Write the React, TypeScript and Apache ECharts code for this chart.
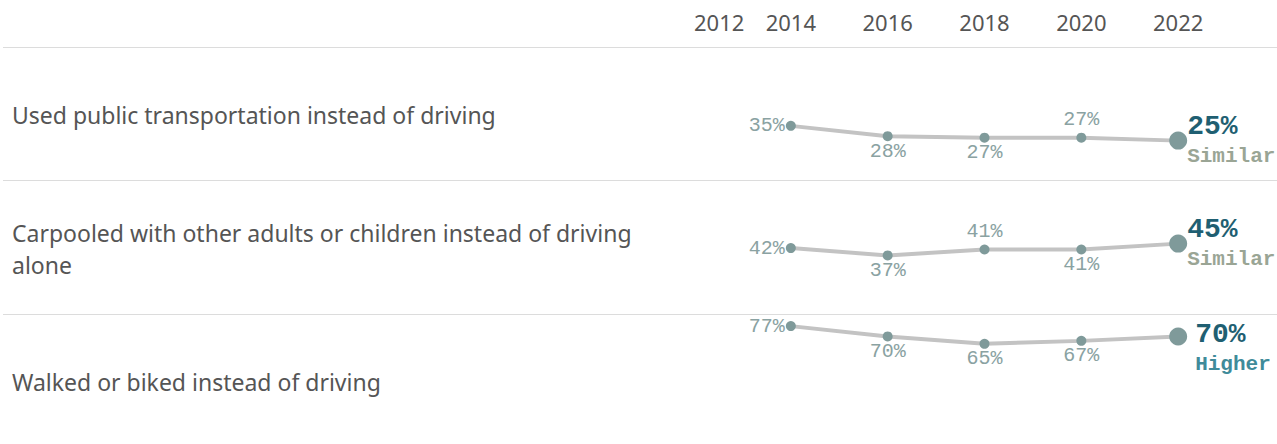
import React, { useEffect, useRef } from "react";
import * as echarts from "echarts";

// ---- data ----
const years = [2014, 2016, 2018, 2020, 2022];
const tickYears = [2012, 2014, 2016, 2018, 2020, 2022];
const categories = [
  "Used public transportation instead of driving",
  "Carpooled with other adults or children instead of driving\nalone",
  "Walked or biked instead of driving",
];
const publicTransport = [35, 28, 27, 27, 25];
const carpooled = [42, 37, 41, 41, 45];
const walkedBiked = [77, 70, 65, 67, 70];
const comparison = ["Similar", "Similar", "Higher"];

const seriesValues = [publicTransport, carpooled, walkedBiked];

// ---- layout / style ----
const W = 1277;
const H = 444;
const rowLines = [47, 180, 314];
const rowCenters = [115, 249, 382];
const baselines = [177.5, 310, 439.7]; // y pixel of 0%
const pxPerPct = 1.475;
const gridHeight = 100 * pxPerPct;
const labelPlacement = [
  ["left", "bottom", "bottom", "top"],
  ["left", "bottom", "top", "bottom"],
  ["left", "bottom", "bottom", "bottom"],
];
const lastLabelOffset = [
  [0, 1],
  [0, 1],
  [8, 13],
];
const statusColors: Record<string, string> = {
  Similar: "#9aa595",
  Higher: "#3f8b9a",
};
const mono = "'Liberation Mono', 'Courier New', monospace";
const sans = "'Noto Sans', sans-serif";

export default function App() {
  const ref = useRef<HTMLDivElement>(null);
  useEffect(() => {
    if (!ref.current) return;
    const chart = echarts.init(ref.current, undefined, { renderer: "svg" });

    const grids: any[] = seriesValues.map((_, i) => ({
      left: 694,
      right: 2,
      top: baselines[i] - gridHeight,
      height: gridHeight,
    }));
    grids.push({ left: 694, right: 2, top: rowLines[0], height: 1 });

    const xAxes: any[] = seriesValues.map((_, i) => ({
      type: "value",
      gridIndex: i,
      min: 2012,
      max: 2024,
      show: false,
    }));
    xAxes.push({
      type: "value",
      gridIndex: 3,
      position: "top",
      min: 2012,
      max: 2024,
      interval: 2,
      axisLine: { show: false },
      axisTick: { show: false },
      splitLine: { show: false },
      axisLabel: {
        show: true,
        margin: 14,
        fontSize: 22,
        fontFamily: sans,
        color: "#555555",
        alignMinLabel: "left",
        showMaxLabel: false,
        formatter: (v: number) => (tickYears.includes(v) ? String(v) : ""),
      },
    });

    const yAxes: any[] = seriesValues.map((_, i) => ({
      type: "value",
      gridIndex: i,
      min: 0,
      max: 100,
      show: false,
    }));
    yAxes.push({ type: "value", gridIndex: 3, min: 0, max: 1, show: false });

    const series = seriesValues.map((vals, i) => ({
      type: "line",
      xAxisIndex: i,
      yAxisIndex: i,
      symbol: "circle",
      lineStyle: { color: "#c3c3c3", width: 4 },
      itemStyle: { color: "#7f9a9a" },
      z: 3,
      data: vals.map((v, j) => {
        const last = j === vals.length - 1;
        if (last) {
          return {
            value: [years[j], v],
            symbolSize: 18,
            label: {
              show: true,
              position: "right",
              distance: 0,
              offset: lastLabelOffset[i],
              align: "left",
              formatter: `{v|${v}%}\n{s|${comparison[i]}}`,
              rich: {
                v: {
                  fontFamily: mono,
                  fontWeight: "bold",
                  fontSize: 28,
                  lineHeight: 30,
                  color: "#1f5f72",
                },
                s: {
                  fontFamily: mono,
                  fontWeight: "bold",
                  fontSize: 21,
                  lineHeight: 30,
                  color: statusColors[comparison[i]],
                },
              },
            },
          };
        }
        const pos = labelPlacement[i][j];
        return {
          value: [years[j], v],
          symbolSize: 10,
          label: {
            show: true,
            position: pos,
            distance: pos === "left" ? 1 : pos === "top" ? 3 : 0,
            formatter: `${v}%`,
            fontFamily: mono,
            fontSize: 20,
            color: "#8aa2a2",
          },
        };
      }),
    }));

    const graphics: any[] = [];
    rowLines.forEach((y) => {
      graphics.push({
        type: "line",
        shape: { x1: 3, y1: y + 0.5, x2: W, y2: y + 0.5 },
        style: { stroke: "#dcdcdc", lineWidth: 1 },
        silent: true,
      });
    });
    categories.forEach((c, i) => {
      graphics.push({
        type: "text",
        x: 12,
        y: rowCenters[i],
        style: {
          text: c,
          fontFamily: sans,
          fontSize: 23,
          lineHeight: 32,
          fill: "#555555",
          verticalAlign: "middle",
          align: "left",
        },
        silent: true,
      });
    });

    chart.setOption({
      animation: false,
      backgroundColor: "#ffffff",
      grid: grids,
      xAxis: xAxes,
      yAxis: yAxes,
      series,
      graphic: graphics,
    });
    return () => chart.dispose();
  }, []);

  return (
    <div
      ref={ref}
      style={{ position: "fixed", left: 0, top: 0, width: W, height: H }}
    />
  );
}
